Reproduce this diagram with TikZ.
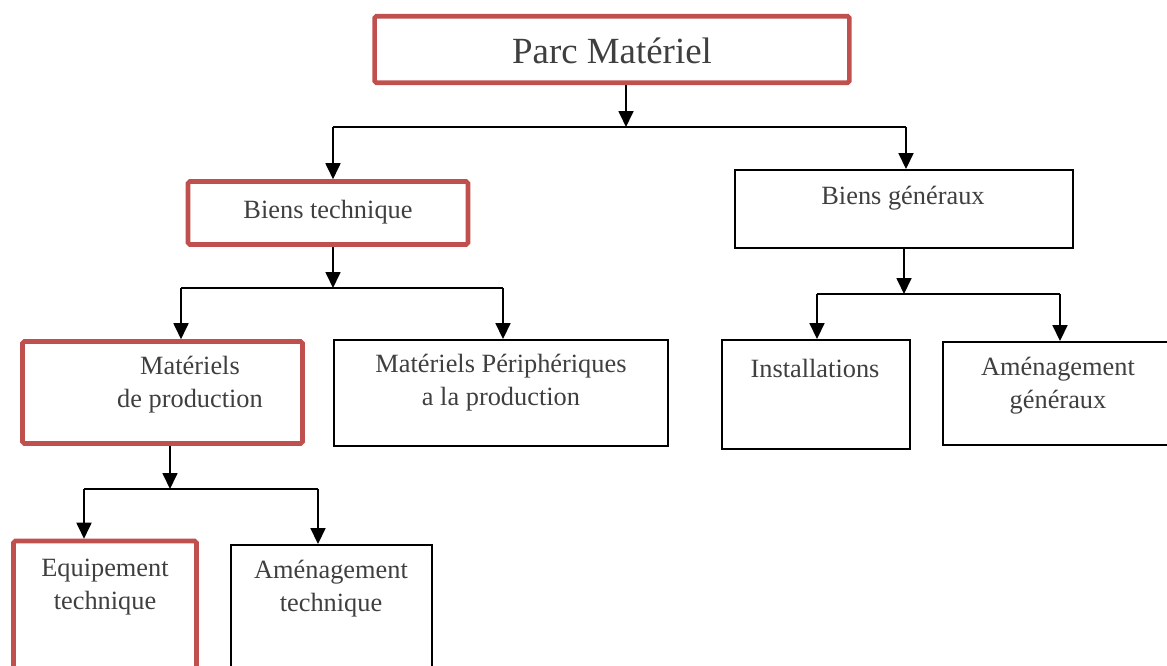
\documentclass[tikz,border=0pt]{standalone}
\usepackage{fontspec}
\setmainfont{Liberation Serif}
\usepackage{tikz}
\usetikzlibrary{positioning, arrows.meta}
\definecolor{boxred}{HTML}{C0504D}
\definecolor{txtgray}{HTML}{3F3F3F}

\begin{document}
\begin{tikzpicture}[x=0.02cm, y=-0.02cm,
  red node/.style={draw=boxred, line width=2.6pt, rounded corners=1pt, inner sep=0pt},
  black node/.style={draw, line width=1.1pt, inner sep=0pt},
  txt node/.style={text=txtgray, font=\fontsize{15}{18.7}\selectfont, align=center, inner sep=0pt},
  link/.style={line width=1pt},
  arr/.style={line width=1pt, -{Triangle[length=0.32cm, width=0.3cm]}}]

\useasboundingbox (0,0) rectangle (1167,666);

% boxes
\node[red node, minimum width=9.5cm, minimum height=1.33cm] (parc) at (612,49.5) {};
\node[red node, minimum width=5.6cm, minimum height=1.26cm] (bt) at (328,213) {};
\node[black node, minimum width=6.76cm, minimum height=1.56cm] (bg) at (904,209) {};
\node[red node, minimum width=5.6cm, minimum height=2.04cm] (mp) at (162.5,392.5) {};
\node[black node, minimum width=6.68cm, minimum height=2.12cm] (mpp) at (501,393) {};
\node[black node, minimum width=3.76cm, minimum height=2.18cm] (inst) at (816,394.5) {};
\node[black node, minimum width=4.6cm, minimum height=2.06cm] (ag) at (1058,393.5) {};
\node[red node, minimum width=3.66cm, minimum height=2.98cm] (eq) at (105,615.5) {};
\node[black node, minimum width=4.02cm, minimum height=2.9cm] (at) at (331.5,617.5) {};

% texts
\node[txt node, font=\fontsize{21}{25}\selectfont] (parc-t) at (612,51) {Parc Matériel};
\node[txt node] (bt-t) at (328,212) {Biens technique};
\node[txt node] (bg-t) at (903,198) {Biens généraux};
\node[txt node] (mp-t) at (190,385) {Matériels\\de production};
\node[txt node] (mpp-t) at (501,383) {Matériels Périphériques\\a la production};
\node[txt node] (inst-t) at (815,368) {Installations};
\node[txt node] (ag-t) at (1058,385.5) {Aménagement\\généraux};
\node[txt node] (eq-t) at (105,587) {Equipement\\technique};
\node[txt node] (at-t) at (331,589) {Aménagement\\technique};

% junctions
\coordinate (j1) at (626,127);
\coordinate (j1l) at (333,127);
\coordinate (j1r) at (906,127);
\coordinate (j2) at (333,288);
\coordinate (j2l) at (181,288);
\coordinate (j2r) at (503,288);
\coordinate (j3) at (904,294);
\coordinate (j3l) at (817,294);
\coordinate (j3r) at (1060,294);
\coordinate (j4) at (170,489);
\coordinate (j4l) at (84,489);
\coordinate (j4r) at (318,489);

\draw[arr] (parc.south -| j1) -- (j1);
\draw[link] (j1l) -- (j1r);
\draw[arr] (j1l) -- (bt.north -| j1l);
\draw[arr] (j1r) -- (bg.north -| j1r);

\draw[arr] (bt.south -| j2) -- (j2);
\draw[link] (j2l) -- (j2r);
\draw[arr] (j2l) -- (mp.north -| j2l);
\draw[arr] (j2r) -- (mpp.north -| j2r);

\draw[arr] (bg.south -| j3) -- (j3);
\draw[link] (j3l) -- (j3r);
\draw[arr] (j3l) -- (inst.north -| j3l);
\draw[arr] (j3r) -- (ag.north -| j3r);

\draw[arr] (mp.south -| j4) -- (j4);
\draw[link] (j4l) -- (j4r);
\draw[arr] (j4l) -- (eq.north -| j4l);
\draw[arr] (j4r) -- (at.north -| j4r);

\end{tikzpicture}
\end{document}
